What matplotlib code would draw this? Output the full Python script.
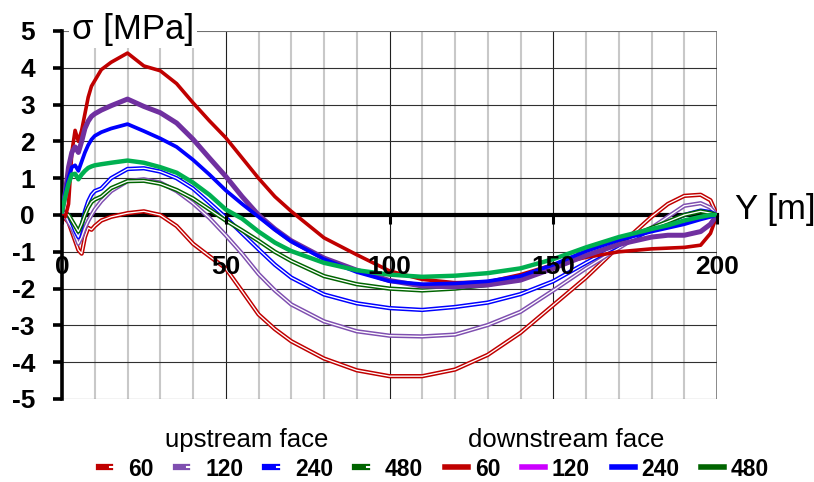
import matplotlib
matplotlib.use("Agg")
import matplotlib.pyplot as plt
from matplotlib.lines import Line2D
from matplotlib.legend_handler import HandlerTuple

plt.rcParams['font.family'] = ['Liberation Sans', 'DejaVu Sans']

# ---------------- data ----------------
Y_m = [0, 1, 2, 3, 4, 5, 6, 7, 8, 9, 10, 12, 15, 20, 25, 30, 35, 40, 45, 50,
       55, 60, 65, 70, 80, 90, 100, 110, 120, 130, 140, 150, 160, 170, 180,
       185, 190, 195, 198, 200]

# upstream face (double lines)
up_60 = [-0.05, -0.1, -0.2, -0.45, -0.7, -0.95, -1.05, -0.6, -0.35, -0.4, -0.3, -0.15,
         -0.05, 0.05, 0.1, 0.0, -0.3, -0.78, -1.12, -1.45, -2.07, -2.7, -3.1, -3.43,
         -3.9, -4.22, -4.38, -4.38, -4.2, -3.8, -3.2, -2.45, -1.7, -0.85, -0.05, 0.3,
         0.52, 0.55, 0.4, 0.0]
up_120 = [0.1, 0.0, -0.2, -0.35, -0.55, -0.78, -0.6, -0.35, -0.16, 0.0, 0.15, 0.38,
          0.65, 0.92, 0.97, 0.88, 0.65, 0.32, -0.08, -0.55, -1.05, -1.6, -2.05, -2.43,
          -2.89, -3.16, -3.28, -3.3, -3.25, -2.99, -2.63, -2.05, -1.45, -0.9, -0.35,
          -0.05, 0.25, 0.32, 0.2, 0.0]
up_240 = [0.1, 0.05, 0.0, -0.2, -0.43, -0.6, -0.3, 0.1, 0.37, 0.55, 0.65, 0.72, 1.0,
          1.25, 1.27, 1.18, 1.0, 0.72, 0.33, -0.07, -0.5, -0.93, -1.35, -1.7, -2.16,
          -2.4, -2.53, -2.58, -2.5, -2.38, -2.15, -1.8, -1.3, -0.82, -0.4, -0.2, 0.0,
          0.12, 0.08, 0.0]
up_480 = [0.1, 0.05, 0.0, -0.15, -0.3, -0.45, -0.25, 0.0, 0.2, 0.35, 0.42, 0.5, 0.73,
          0.92, 0.93, 0.85, 0.68, 0.45, 0.15, -0.15, -0.42, -0.7, -1.0, -1.25, -1.66,
          -1.88, -2.0, -2.05, -2.0, -1.9, -1.7, -1.4, -1.05, -0.7, -0.35, -0.18, 0.0,
          0.1, 0.05, 0.0]

# downstream face (thick lines)
down_60 = [0.0, -0.05, 0.3, 1.7, 2.3, 2.0, 2.3, 2.75, 3.2, 3.5, 3.65, 3.95, 4.15, 4.4,
           4.05, 3.92, 3.57, 3.05, 2.56, 2.1, 1.55, 1.0, 0.5, 0.1, -0.62, -1.08, -1.52,
           -1.75, -1.84, -1.82, -1.62, -1.35, -1.15, -1.0, -0.92, -0.9, -0.88, -0.82,
           -0.5, 0.0]
down_120 = [0.1, 0.6, 1.3, 1.7, 1.85, 1.7, 2.0, 2.35, 2.55, 2.68, 2.75, 2.85, 2.97,
            3.15, 2.95, 2.78, 2.5, 2.06, 1.55, 1.05, 0.5, 0.0, -0.38, -0.7, -1.17,
            -1.5, -1.78, -1.93, -1.95, -1.9, -1.77, -1.45, -1.1, -0.8, -0.6, -0.55,
            -0.55, -0.45, -0.25, 0.0]
down_240 = [0.1, 0.6, 1.0, 1.3, 1.35, 1.2, 1.45, 1.7, 1.9, 2.05, 2.15, 2.25, 2.35,
            2.47, 2.28, 2.08, 1.85, 1.5, 1.1, 0.67, 0.3, -0.05, -0.4, -0.72, -1.2,
            -1.55, -1.8, -1.88, -1.86, -1.8, -1.66, -1.35, -0.98, -0.68, -0.45, -0.35,
            -0.25, -0.12, -0.05, 0.0]
down_480 = [0.1, 0.5, 0.85, 1.1, 1.12, 0.97, 1.1, 1.2, 1.28, 1.32, 1.35, 1.38, 1.42,
            1.48, 1.42, 1.3, 1.15, 0.88, 0.55, 0.15, -0.1, -0.45, -0.75, -0.98, -1.3,
            -1.5, -1.62, -1.68, -1.65, -1.58, -1.45, -1.2, -0.88, -0.6, -0.38, -0.28,
            -0.15, -0.05, 0.0, 0.0]

legend_labels = ["60", "120", "240", "480", "60", "120", "240", "480"]
x_ticks = [0, 50, 100, 150, 200]
x_tick_labels = ["0", "50", "100", "150", "200"]
x_minor = [10, 20, 30, 40, 60, 70, 80, 90, 110, 120, 130, 140, 160, 170, 180, 190]
y_ticks = [5, 4, 3, 2, 1, 0, -1, -2, -3, -4, -5]
y_tick_labels = ["5", "4", "3", "2", "1", "0", "-1", "-2", "-3", "-4", "-5"]

# ---------------- styles ----------------
up_colors = ["#C00000", "#7F4FB0", "#0000FF", "#006400"]
down_colors = ["#C00000", "#7030A0", "#0000FF", "#00B050"]
down_widths = [2.6, 3.6, 2.7, 3.2]
legend_down_colors = ["#C00000", "#CC00FF", "#0000FF", "#006400"]

W, H = 814, 482
fig = plt.figure(figsize=(W / 100, H / 100), dpi=100)
ax = fig.add_axes([62 / W, 1 - 399 / H, 655 / W, 368 / H])
ax.set_xlim(0, 200)
ax.set_ylim(-5, 5)

# grid (drawn manually so the tick labels can sit above the curves)
for xv in x_minor:
    ax.axvline(xv, color="#C8C8C8", lw=1.5, zorder=0.5)
for xv in x_ticks[1:-1]:
    ax.axvline(xv, color="#202020", lw=0.8, zorder=0.6)
ax.axvline(x_ticks[-1], color="#808080", lw=1.3, zorder=0.6)
for yv in y_ticks:
    if yv != 0:
        ax.axhline(yv, color="#303030" if yv != 5 else "#707070", lw=0.8, zorder=0.6)

# spines
for s in ("top", "right"):
    ax.spines[s].set_visible(False)
ax.spines["bottom"].set_position(("data", 0))
ax.spines["bottom"].set_linewidth(3.0)
ax.spines["left"].set_linewidth(2.6)

ax.set_xticks(x_ticks, labels=x_tick_labels, fontsize=19, fontweight="bold")
ax.set_yticks(y_ticks, labels=y_tick_labels, fontsize=19, fontweight="bold")
ax.tick_params(axis="x", which="major", direction="out", length=6.5, width=2.2, pad=22)
ax.tick_params(axis="y", which="major", direction="out", length=6.5, width=2.6, pad=13)
ax.xaxis.set_zorder(10)
ax.yaxis.set_zorder(10)

# upstream face: double lines
ups = [up_60, up_120, up_240, up_480]
for i, (vals, c) in enumerate(zip(ups, up_colors)):
    z = 3 + i * 0.01
    ax.plot(Y_m, vals, color=c, lw=3.1, zorder=z, solid_joinstyle="round")
    ax.plot(Y_m, vals, color="white", lw=0.95, zorder=z + 0.005, solid_joinstyle="round")

# downstream face: thick lines
downs = [down_60, down_120, down_240, down_480]
for i, (vals, c, w) in enumerate(zip(downs, down_colors, down_widths)):
    ax.plot(Y_m, vals, color=c, lw=w, zorder=4 + i * 0.01, solid_joinstyle="round")

# axis titles
fig.text(72 / W, 1 - 29 / H, "σ [MPa]", fontsize=25, ha="left", va="center",
         bbox=dict(facecolor="white", edgecolor="none", pad=2))
fig.text(735 / W, 1 - 209 / H, "Y [m]", fontsize=25, ha="left", va="center")

# legend
fig.text(247 / W, 1 - 440 / H, "upstream face", fontsize=18.5, ha="center", va="center")
fig.text(566 / W, 1 - 440 / H, "downstream face", fontsize=18.5, ha="center", va="center")

up_handles = [(Line2D([], [], color=c, lw=4.5), Line2D([], [], color="white", lw=1.5))
              for c in up_colors]
down_handles = [Line2D([], [], color=c, lw=4.0) for c in legend_down_colors]
fig.legend(handles=up_handles + down_handles, labels=legend_labels, ncol=8,
           loc="center", bbox_to_anchor=(434 / W, 1 - 469 / H), frameon=False,
           handler_map={tuple: HandlerTuple(ndivide=None)},
           handlelength=1.0, handletextpad=0.3, columnspacing=0.95,
           prop={"weight": "bold", "size": 16.5}, borderpad=0, borderaxespad=0)

fig.savefig("out.png", dpi=100)
